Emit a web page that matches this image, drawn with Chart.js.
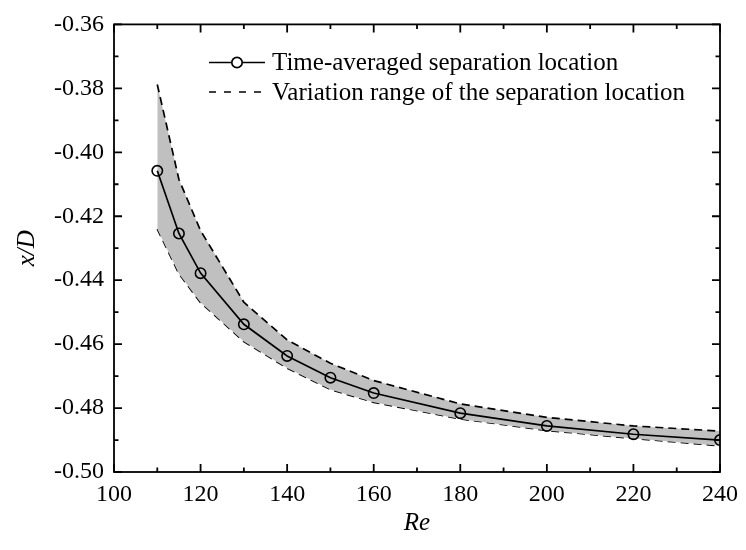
<!DOCTYPE html>
<html>
<head>
<meta charset="utf-8">
<script src="https://cdn.jsdelivr.net/npm/chart.js@4.4.1/dist/chart.umd.min.js"></script>
<style>
  html, body { margin: 0; padding: 0; background: #ffffff; }
  #wrap { width: 746px; height: 550px; }
</style>
</head>
<body>
<div id="wrap"><canvas id="c" width="746" height="550"></canvas></div>
<script>
// Reynolds numbers and separation location x/D
const reynolds = [110, 115, 120, 130, 140, 150, 160, 180, 200, 220, 240];
const meanLocation = [-0.4058, -0.4254, -0.4378, -0.4538, -0.4637, -0.4705, -0.4753, -0.4816, -0.4856, -0.4882, -0.4900];
const upperBound = [-0.3788, -0.4085, -0.4245, -0.4469, -0.4587, -0.4660, -0.4714, -0.4787, -0.4829, -0.4856, -0.4872];
const lowerBound = [-0.4240, -0.4380, -0.4470, -0.4592, -0.4675, -0.4742, -0.4782, -0.4834, -0.4870, -0.4895, -0.4918];
const legendLabels = ['Time-averaged separation location', 'Variation range of the separation location'];

const FONT = "'Liberation Serif', 'Times New Roman', serif";
const toXY = (ys) => reynolds.map((x, i) => ({ x, y: ys[i] }));

// Inward ticks on all four sides plus the frame
const frameTicks = {
  id: 'frameTicks',
  afterDatasetsDraw(chart) {
    const { ctx, chartArea: a, scales } = chart;
    ctx.save();
    ctx.strokeStyle = '#000';
    ctx.lineWidth = 1.8;
    ctx.strokeRect(a.left, a.top, a.right - a.left, a.bottom - a.top);
    const major = 8, minor = 4.5;
    const drawFor = (scale, horizontal) => {
      const vals = scale.ticks.map(t => t.value);
      const marks = [];
      vals.forEach((v, i) => {
        marks.push([v, major]);
        if (i < vals.length - 1) marks.push([(v + vals[i + 1]) / 2, minor]);
      });
      ctx.beginPath();
      marks.forEach(([v, len]) => {
        const p = scale.getPixelForValue(v);
        if (horizontal) {
          ctx.moveTo(p, a.bottom); ctx.lineTo(p, a.bottom - len);
          ctx.moveTo(p, a.top); ctx.lineTo(p, a.top + len);
        } else {
          ctx.moveTo(a.left, p); ctx.lineTo(a.left + len, p);
          ctx.moveTo(a.right, p); ctx.lineTo(a.right - len, p);
        }
      });
      ctx.stroke();
    };
    drawFor(scales.x, true);
    drawFor(scales.y, false);
    ctx.restore();
  }
};

// Legend with line-and-marker samples
const sampleLegend = {
  id: 'sampleLegend',
  afterDraw(chart) {
    const { ctx } = chart;
    const x0 = 209, x1 = 265, tx = 272;
    const rows = [62.5, 92];
    ctx.save();
    ctx.strokeStyle = '#000';
    ctx.lineWidth = 1.7;
    // row 1: solid line with hollow circle
    ctx.beginPath(); ctx.moveTo(x0, rows[0]); ctx.lineTo(x1, rows[0]); ctx.stroke();
    ctx.beginPath(); ctx.arc((x0 + x1) / 2, rows[0], 5.2, 0, Math.PI * 2);
    ctx.fillStyle = '#fff'; ctx.fill(); ctx.stroke();
    // row 2: dashed line
    ctx.setLineDash([7, 8]);
    ctx.beginPath(); ctx.moveTo(x0, rows[1]); ctx.lineTo(x1, rows[1]); ctx.stroke();
    ctx.setLineDash([]);
    ctx.fillStyle = '#000';
    ctx.font = `25px ${FONT}`;
    ctx.textBaseline = 'middle';
    ctx.textAlign = 'left';
    ctx.fillText(legendLabels[0], tx, rows[0] + 1);
    ctx.fillText(legendLabels[1], tx, rows[1] + 1);
    ctx.restore();
  }
};

new Chart(document.getElementById('c'), {
  type: 'line',
  data: {
    datasets: [
      {
        label: 'upper',
        data: toXY(upperBound),
        borderColor: '#000',
        borderWidth: 1.7,
        borderDash: [8, 5],
        backgroundColor: '#c0c0c0',
        fill: '+1',
        pointRadius: 0,
        tension: 0,
        order: 2
      },
      {
        label: 'lower',
        data: toXY(lowerBound),
        borderColor: '#000',
        borderWidth: 1.7,
        borderDash: [8, 5],
        fill: false,
        pointRadius: 0,
        tension: 0,
        order: 2
      },
      {
        label: legendLabels[0],
        data: toXY(meanLocation),
        borderColor: '#000',
        borderWidth: 1.7,
        fill: false,
        pointRadius: 5.2,
        pointBorderWidth: 1.6,
        pointBorderColor: '#000',
        pointBackgroundColor: 'rgba(0,0,0,0)',
        tension: 0,
        order: 1
      }
    ]
  },
  options: {
    responsive: false,
    animation: false,
    devicePixelRatio: 1,
    layout: { padding: { left: 0, right: 19, top: 18, bottom: 0 } },
    plugins: { legend: { display: false }, tooltip: { enabled: false } },
    scales: {
      x: {
        type: 'linear',
        min: 100, max: 240,
        afterFit(s) { s.height = 78; },
        grid: { display: false, drawTicks: false },
        border: { display: false },
        ticks: {
          stepSize: 20,
          padding: 8,
          color: '#000',
          font: { family: FONT, size: 24 },
          maxRotation: 0
        },
        title: {
          display: true,
          text: 'Re',
          color: '#000',
          font: { family: FONT, size: 25, style: 'italic' },
          padding: { top: 0, bottom: 12 }
        }
      },
      y: {
        type: 'linear',
        min: -0.50, max: -0.36,
        afterFit(s) { s.width = 114; },
        grid: { display: false, drawTicks: false },
        border: { display: false },
        ticks: {
          stepSize: 0.02,
          padding: 10,
          color: '#000',
          font: { family: FONT, size: 24 },
          callback: (v) => Number(v).toFixed(2)
        },
        title: {
          display: true,
          text: 'x/D',
          color: '#000',
          font: { family: FONT, size: 25, style: 'italic' },
          padding: { top: 12, bottom: 0 }
        }
      }
    }
  },
  plugins: [frameTicks, sampleLegend]
});
</script>
</body>
</html>
